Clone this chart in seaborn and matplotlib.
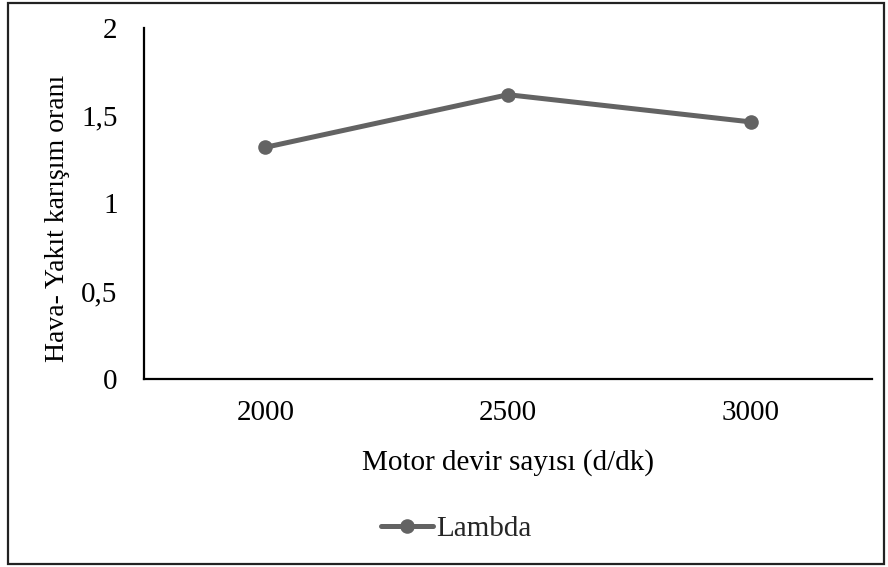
import matplotlib
matplotlib.use("Agg")
import matplotlib.pyplot as plt
from matplotlib.patches import Rectangle
import pandas as pd
import seaborn as sns

# Engine speed (rpm) and measured air-fuel ratio (lambda)
rpm_labels = ["2000", "2500", "3000"]
lambda_values = [1.32, 1.62, 1.465]
y_ticks = [0, 0.5, 1, 1.5, 2]
y_tick_labels = ["0", "0,5", "1", "1,5", "2"]

df = pd.DataFrame({"rpm": rpm_labels, "lambda": lambda_values})

sns.set_theme(style="white")
plt.rcParams["font.family"] = ["Liberation Serif", "DejaVu Serif"]

fig = plt.figure(figsize=(8.88, 5.67), dpi=100)
ax = fig.add_axes([0.1622, 0.3316, 0.8198, 0.619])

line_color = "#636363"
sns.lineplot(data=df, x="rpm", y="lambda", ax=ax, color=line_color,
             linewidth=3.6, marker="o", markersize=10.5,
             markeredgewidth=0, label="Lambda", sort=False)

ax.set_xlim(-0.5, 2.5)
ax.set_ylim(0, 2)
ax.set_yticks(y_ticks)
ax.set_yticklabels(y_tick_labels)

fs = 21
ax.tick_params(axis="both", length=0, labelsize=fs, colors="black")
ax.tick_params(axis="y", pad=19)
ax.tick_params(axis="x", pad=15)

ax.set_xlabel("Motor devir sayısı (d/dk)", fontsize=fs, color="black", labelpad=17)
ax.set_ylabel("Hava- Yakıt karışım oranı", fontsize=20, color="black")
ax.yaxis.set_label_coords(-0.1016, 0.459)

for side in ("top", "right"):
    ax.spines[side].set_visible(False)
for side in ("left", "bottom"):
    ax.spines[side].set_color("black")
    ax.spines[side].set_linewidth(1.6)

ax.legend(loc="center", bbox_to_anchor=(456 / 888, 1 - 529 / 567),
          bbox_transform=fig.transFigure, frameon=False, fontsize=fs,
          handlelength=1.8, handletextpad=0.1, borderpad=0)

# outer chart border
fig.patches.append(Rectangle((8 / 888, 3 / 567), 876 / 888, 561 / 567,
                             transform=fig.transFigure, fill=False,
                             edgecolor="#222222", linewidth=1.6))

fig.savefig("out.png", dpi=100, facecolor="white")
